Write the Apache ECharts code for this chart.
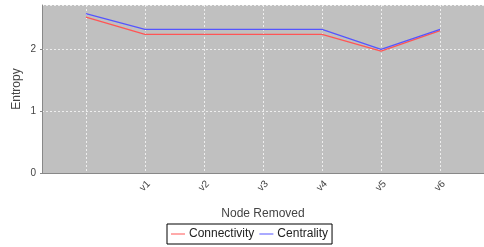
<!DOCTYPE html>
<html>
<head>
<meta charset="utf-8">
<script src="https://cdn.jsdelivr.net/npm/echarts@6/dist/echarts.min.js"></script>
<style>html,body{margin:0;padding:0;background:#fff}#c{width:484px;height:247px}</style>
</head>
<body>
<div id="c"></div>
<script>
var categories = ['', 'v1', 'v2', 'v3', 'v4', 'v5', 'v6'];
var connectivity = [2.52, 2.243, 2.243, 2.243, 2.243, 1.972, 2.305];
var centrality = [2.577, 2.324, 2.324, 2.324, 2.324, 2.0, 2.324];
var yTicks = [0, 1, 2];

function pairs(vals) { return vals.map(function (v, i) { return [i, v]; }); }

var font = 'Liberation Sans, Arial, sans-serif';
var chart = echarts.init(document.getElementById('c'), null, { renderer: 'canvas' });
chart.setOption({
  animation: false,
  backgroundColor: '#ffffff',
  grid: { left: 42, top: 5, right: -8, bottom: 74, backgroundColor: '#c0c0c0', show: true, borderWidth: 0 },
  xAxis: {
    type: 'value', min: -0.744, max: 6.744, minInterval: 1, maxInterval: 1,
    name: 'Node Removed', nameLocation: 'middle', nameGap: 35, nameMoveOverlap: false,
    nameTextStyle: { fontFamily: font, fontSize: 12, color: '#444' },
    axisLine: { show: true, onZero: false, lineStyle: { color: '#888', width: 1 } },
    axisTick: { show: false },
    axisLabel: {
      showMinLabel: false, showMaxLabel: false, rotate: 45, margin: 13,
      align: 'center', verticalAlign: 'middle',
      fontFamily: font, fontSize: 10, color: '#444',
      formatter: function (v) { return categories[Math.round(v)] || ''; }
    },
    splitLine: { show: true, lineStyle: { color: '#eeeeee', type: [2, 2], width: 1 } }
  },
  yAxis: {
    type: 'value', min: 0, max: 2.718, minInterval: 1, maxInterval: 1,
    name: 'Entropy', nameLocation: 'middle', nameGap: 19, nameMoveOverlap: false,
    nameTextStyle: { fontFamily: font, fontSize: 12, color: '#444' },
    axisLine: { show: true, onZero: false, lineStyle: { color: '#888', width: 1 } },
    axisTick: { show: true, length: 2, lineStyle: { color: '#888' } },
    axisLabel: {
      showMaxLabel: false, margin: 6, fontFamily: font, fontSize: 10, color: '#444',
      formatter: function (v) { return yTicks.indexOf(v) >= 0 ? String(v) : ''; }
    },
    splitLine: { show: true, lineStyle: { color: '#eeeeee', type: [2, 2], width: 1 } }
  },
  legend: {
    left: 167, top: 224, orient: 'horizontal',
    backgroundColor: '#fff', borderColor: '#000', borderWidth: 1,
    padding: [4, 4, 4, 4], itemGap: 5, itemWidth: 14, itemHeight: 1,
    textStyle: { fontFamily: font, fontSize: 12, color: '#222', padding: [0, 0, 0, -1] },
    data: [
      { name: 'Connectivity', icon: 'rect', itemStyle: { color: '#ff5555' } },
      { name: 'Centrality', icon: 'rect', itemStyle: { color: '#5555ff' } }
    ]
  },
  series: [
    { name: 'Connectivity', type: 'line', data: pairs(connectivity), symbol: 'none', color: '#ff5555', lineStyle: { color: '#ff5555', width: 1.3 } },
    { name: 'Centrality', type: 'line', data: pairs(centrality), symbol: 'none', color: '#5555ff', lineStyle: { color: '#5555ff', width: 1.3 } }
  ]
});
</script>
</body>
</html>
